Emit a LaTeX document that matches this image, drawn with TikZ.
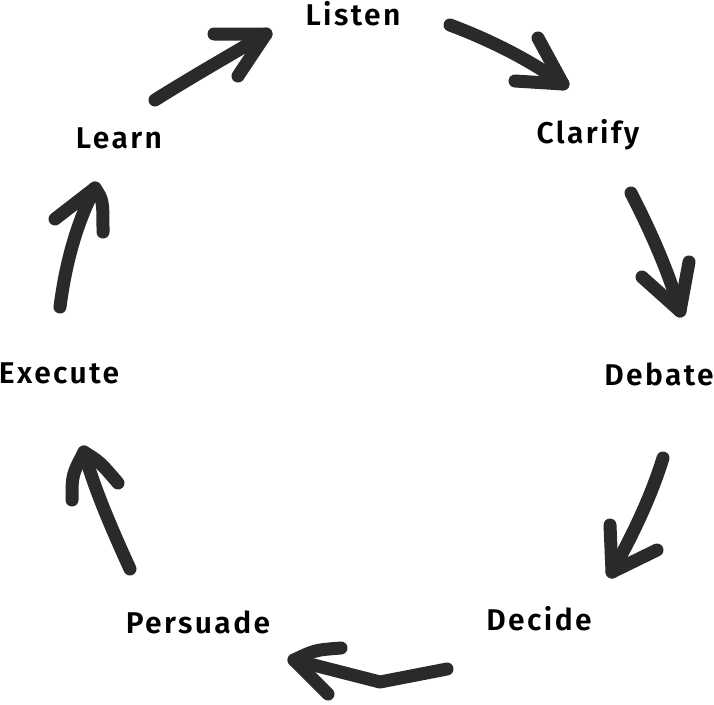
\documentclass[tikz,border=0pt]{standalone}
\usepackage{fontspec}
\setmainfont{Fira Sans}[BoldFont={Fira Sans SemiBold}]
\newfontfamily\lblfont{Fira Sans SemiBold}[LetterSpace=8]
\definecolor{ink}{HTML}{2A2A2A}
\begin{document}
\begin{tikzpicture}[x=1pt,y=-1pt,
  lbl/.style={anchor=base,inner sep=0pt,font=\lblfont\fontsize{30}{30}\selectfont,text=black},
  stroke/.style={draw=ink,line width=13pt,line cap=round,line join=round}]
\useasboundingbox[fill=white] (0,0) rectangle (714,704);
% labels
\node[lbl] (listen)   at (353,25)  {Listen};
\node[lbl] (clarify)  at (588,143) {Clarify};
\node[lbl] (debate)   at (659,385) {Debate};
\node[lbl] (decide)   at (539,630) {Decide};
\node[lbl] (persuade) at (198,633) {Persuade};
\node[lbl] (execute)  at (59,383)  {Execute};
\node[lbl] (learn)    at (119,148) {Learn};
% arrow 1: Learn -> Listen
\coordinate (a1s) at (155,100); \coordinate (a1t) at (266,34);
\coordinate (a1b) at (214,34);  \coordinate (a1c) at (238,76);
\draw[stroke] (a1s) .. controls (190,78) and (230,55) .. (a1t);
\draw[stroke] (a1b) -- (a1t) -- (a1c);
% arrow 2: Listen -> Clarify
\coordinate (a2s) at (450,25); \coordinate (a2t) at (563,84);
\coordinate (a2b) at (538,38); \coordinate (a2c) at (515,81);
\draw[stroke] (a2s) .. controls (490,40) and (530,60) .. (a2t);
\draw[stroke] (a2b) -- (a2t) -- (a2c);
% arrow 3: Clarify -> Debate
\coordinate (a3s) at (631,193); \coordinate (a3t) at (680,311);
\coordinate (a3b) at (642,277); \coordinate (a3c) at (689,262);
\draw[stroke] (a3s) .. controls (650,230) and (668,270) .. (a3t);
\draw[stroke] (a3b) -- (a3t) -- (a3c);
% arrow 4: Debate -> Decide
\coordinate (a4s) at (663,458); \coordinate (a4t) at (612,572);
\coordinate (a4b) at (610,525); \coordinate (a4c) at (657,550);
\draw[stroke] (a4s) .. controls (650,500) and (630,540) .. (a4t);
\draw[stroke] (a4b) -- (a4t) -- (a4c);
% arrow 5: Decide -> Persuade
\coordinate (a5s) at (447,669); \coordinate (a5m) at (380,682);
\coordinate (a5t) at (294,660);
\coordinate (a5b) at (341,648); \coordinate (a5c) at (328,694);
\draw[stroke] (a5s) -- (a5m) -- (a5t);
\draw[stroke] (a5b) .. controls (315,650) .. (a5t) -- (a5c);
% arrow 6: Persuade -> Execute
\coordinate (a6s) at (130,569); \coordinate (a6t) at (84,452);
\coordinate (a6b) at (72,500);  \coordinate (a6c) at (118,483);
\draw[stroke] (a6s) .. controls (110,525) and (95,490) .. (a6t);
\draw[stroke] (a6b) .. controls (72,475) .. (a6t) .. controls (100,462) .. (a6c);
% arrow 7: Execute -> Learn
\coordinate (a7s) at (60,307); \coordinate (a7t) at (95,188);
\coordinate (a7b) at (55,219); \coordinate (a7c) at (103,232);
\draw[stroke] (a7s) .. controls (66,260) and (78,220) .. (a7t);
\draw[stroke] (a7b) -- (a7t) .. controls (103,200) .. (a7c);
\end{tikzpicture}
\end{document}
